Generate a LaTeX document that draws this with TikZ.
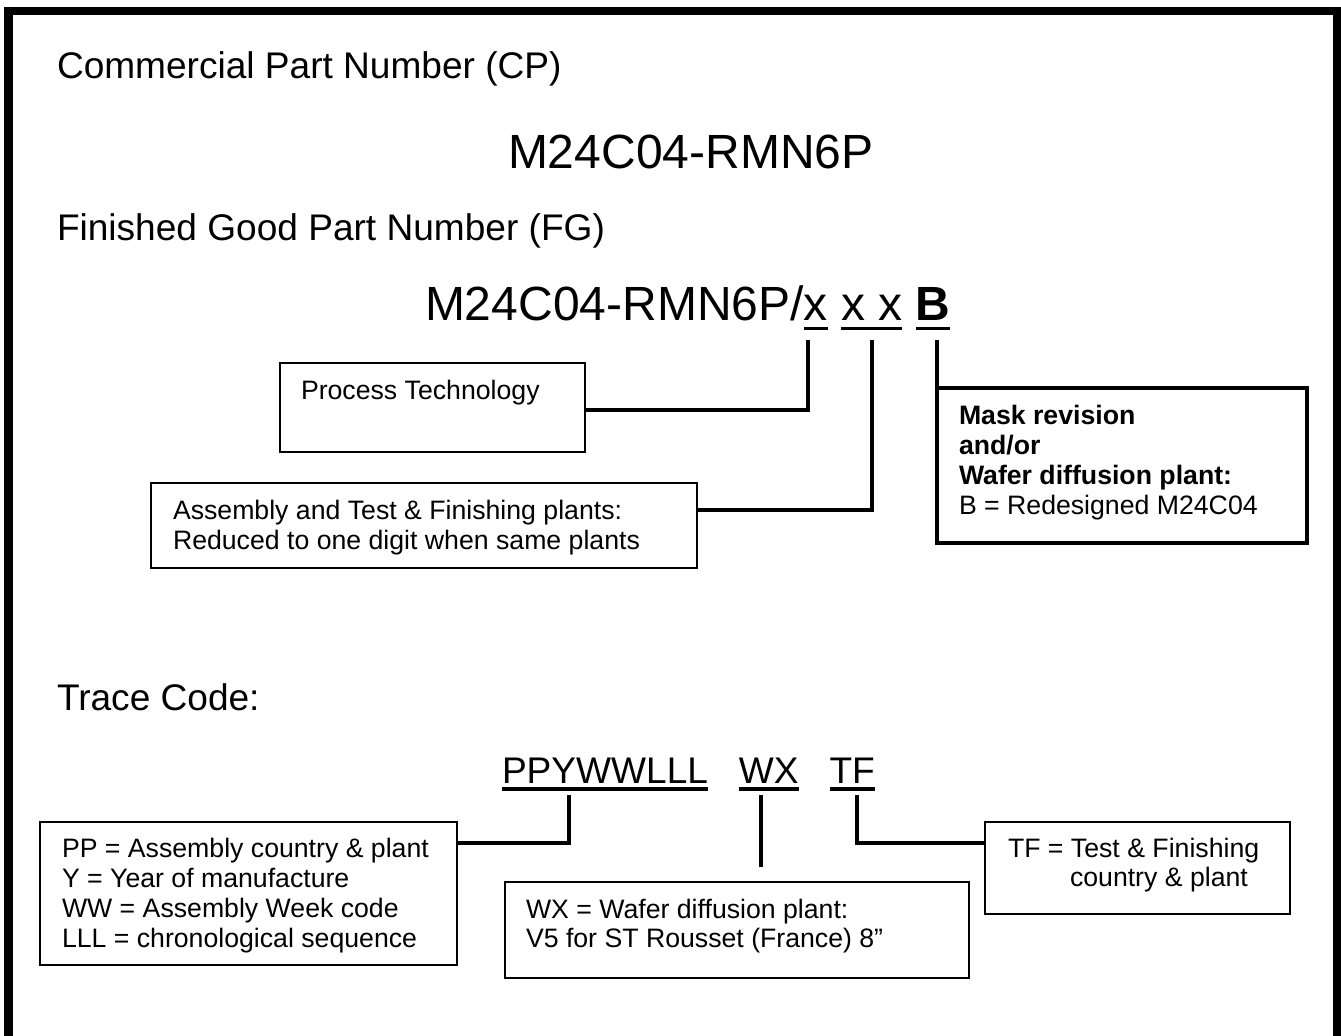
\documentclass[tikz,border=0pt]{standalone}
\usepackage{fontspec}
\setmainfont{Liberation Sans}
\usetikzlibrary{calc}
\begin{document}
\begin{tikzpicture}[x=0.75pt,y=-0.75pt,
  bx/.style={font=\fontsize{20}{22.5}\selectfont, inner sep=0pt, outer sep=0pt, anchor=base west},
  ttl/.style={font=\fontsize{27.8}{32}\selectfont, inner sep=0pt, outer sep=0pt, anchor=base west},
  pn/.style={font=\fontsize{36}{40}\selectfont, inner sep=0pt, outer sep=0pt, anchor=base west},
  thinbox/.style={draw, line width=1.1pt, inner sep=0pt, outer sep=0pt, anchor=north west, rectangle},
  thickbox/.style={draw, line width=2.55pt, inner sep=0pt, outer sep=0pt, anchor=north west, rectangle},
  conn/.style={line width=2.55pt, line join=miter},
  uline/.style={line width=2.55pt},
  frame/.style={line width=6.4pt}
]
\useasboundingbox (0,0) rectangle (1341,1035);
\clip (0,0) rectangle (1341,1035);
\fill[white] (0,0) rectangle (1341,1035);

% outer frame (open at the bottom)
\draw[frame] (8.5,1045) -- (8.5,11) -- (1337.5,11) -- (1337.5,1045);

% headings
\node[ttl] (cpt) at (57,78) {Commercial Part Number (CP)};
\node[pn] (cp) at (508,168) {M24C04-RMN6P};
\node[ttl] (fgt) at (57,240) {Finished Good Part Number (FG)};

% finished good part number, piece by piece
\node[pn] (fg0) at (425,320) {M24C04-RMN6P/};
\node[pn] (x1) at (fg0.base east) {x};
\node[pn] (x23) at ([xshift=10pt]x1.base east) {x x};
\node[pn] (bb) at ([xshift=10pt]x23.base east) {\textbf{B}};
\draw[uline] ($(x1.base west)+(0,8.5)$) -- ($(x1.base east)+(0,8.5)$);
\draw[uline] ($(x23.base west)+(0,8.5)$) -- ($(x23.base east)+(0,8.5)$);
\draw[uline] ($(bb.base west)+(0,8.5)$) -- ($(bb.base east)+(0,8.5)$);

% boxes of the part number
\node[thinbox, minimum width=305*0.75pt, minimum height=89*0.75pt] (proc) at (280,363) {};
\node[bx] (proct) at (301,399) {Process Technology};

\node[thinbox, minimum width=546*0.75pt, minimum height=85*0.75pt] (asm) at (151,483) {};
\node[bx] (asm1) at (173,519) {Assembly and Test \& Finishing plants:};
\node[bx] (asm2) at (173,549) {Reduced to one digit when same plants};

\node[thickbox, minimum width=370*0.75pt, minimum height=155*0.75pt] (mask) at (937,388) {};
\node[bx] (mask1) at (959,424) {\textbf{Mask revision}};
\node[bx] (mask2) at (959,454) {\textbf{and/or}};
\node[bx] (mask3) at (959,484) {\textbf{Wafer diffusion plant:}};
\node[bx] (mask4) at (959,514) {B = Redesigned M24C04};

% connectors of the part number
\coordinate (t1) at (808,340);
\coordinate (t2) at (872,340);
\coordinate (t3) at (937,340);
\draw[conn] (t1) |- ($(proc.north east)+(0,47)$);
\draw[conn] (t2) |- ($(asm.north east)+(0,27)$);
\draw[conn] (t3) -- (mask.north west);

% trace code
\node[ttl] (tct) at (57,710) {Trace Code:};
\node[ttl] (ppy) at (502,783) {PPYWWLLL};
\node[ttl] (wx) at ([xshift=23.2pt]ppy.base east) {WX};
\node[ttl] (tf) at ([xshift=23.2pt]wx.base east) {TF};
\draw[uline] ($(ppy.base west)+(0,6)$) -- ($(ppy.base east)+(0,6)$);
\draw[uline] ($(wx.base west)+(0,6)$) -- ($(wx.base east)+(0,6)$);
\draw[uline] ($(tf.base west)+(0,6)$) -- ($(tf.base east)+(0,6)$);

\node[thinbox, minimum width=417*0.75pt, minimum height=143*0.75pt] (trace) at (40,822) {};
\node[bx] (tr1) at (62,857) {PP = Assembly country \& plant};
\node[bx] (tr2) at (62,887) {Y = Year of manufacture};
\node[bx] (tr3) at (62,917) {WW = Assembly Week code};
\node[bx] (tr4) at (62,947) {LLL = chronological sequence};

\node[thinbox, minimum width=464*0.75pt, minimum height=96*0.75pt] (wxb) at (505,882) {};
\node[bx] (wx1) at (526,918) {WX = Wafer diffusion plant:};
\node[bx] (wx2) at (526,947) {V5 for ST Rousset (France) 8”};

\node[thinbox, minimum width=305*0.75pt, minimum height=92*0.75pt] (tfb) at (985,822) {};
\node[bx] (tf1) at (1008,857) {TF = Test \& Finishing};
\node[bx] (tf2) at (1070,886) {country \& plant};

\coordinate (t4) at (569,795);
\coordinate (t5) at (761,795);
\coordinate (t5e) at (761,867);
\coordinate (t6) at (857,795);
\draw[conn] (t4) |- ($(trace.north east)+(0,21)$);
\draw[conn] (t5) -- (t5e);
\draw[conn] (t6) |- ($(tfb.north west)+(0,21)$);
\end{tikzpicture}
\end{document}
